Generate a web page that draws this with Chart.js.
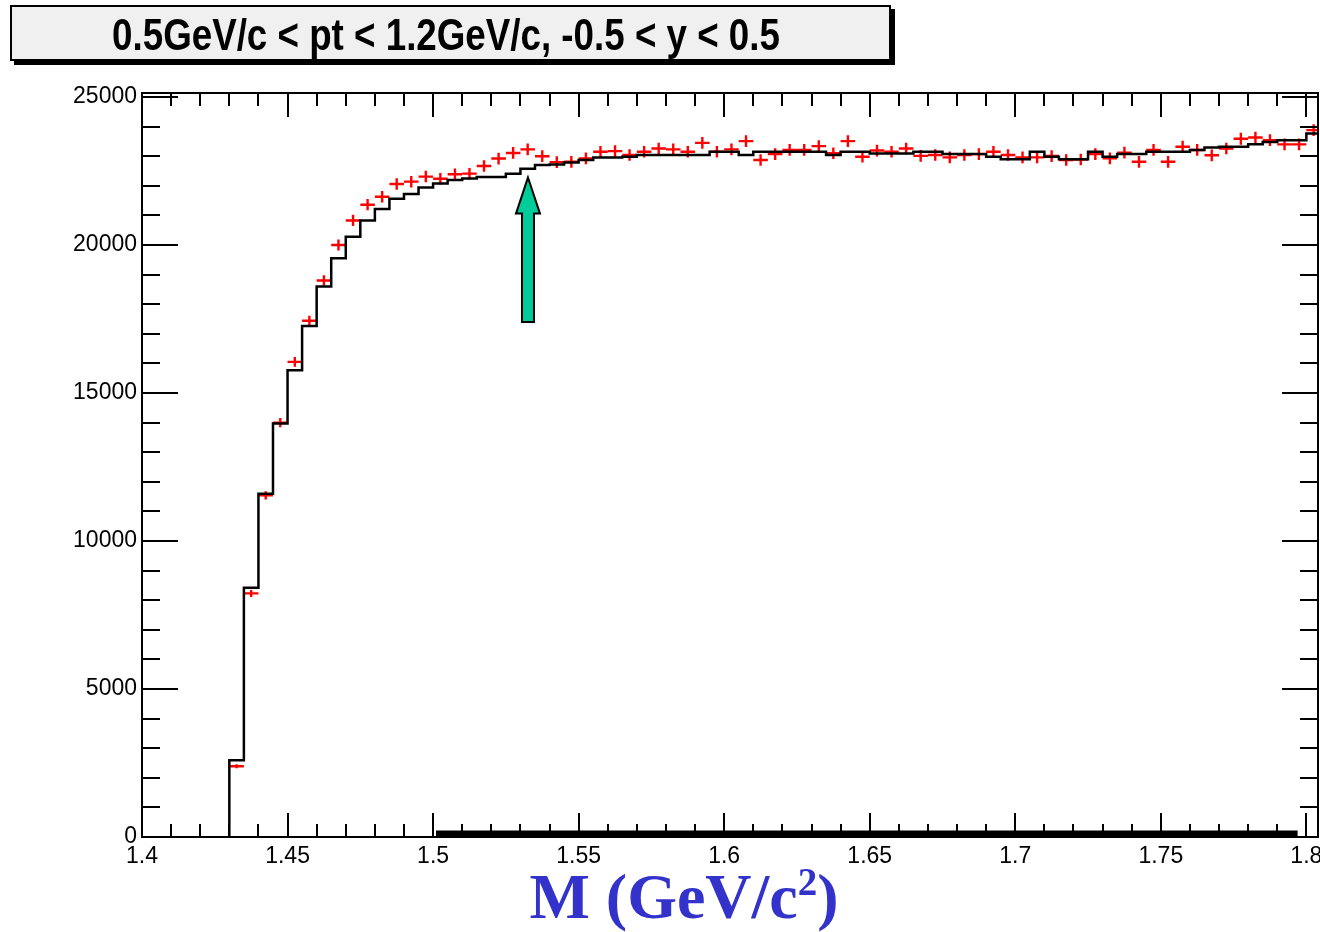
<!DOCTYPE html>
<html lang="en">
<head>
<meta charset="UTF-8">
<title>Invariant mass spectrum</title>
<script src="https://cdn.jsdelivr.net/npm/chart.js@4.4.1/dist/chart.umd.min.js"></script>
<style>
  html, body { margin: 0; padding: 0; background: #fff; }
  .wrap { position: relative; width: 1320px; height: 932px; overflow: hidden; }
  #mass-chart { position: absolute; left: 0; top: 0; }
  .title-box {
    position: absolute; left: 10px; top: 5px; width: 877px; height: 52px;
    background: #f0f0f0; border: 2px solid #000; box-shadow: 4px 4px 0 #000;
  }
  .title-text {
    position: absolute; left: 446px; top: 13px;
    font-family: "Liberation Sans", Arial, sans-serif; font-size: 44px; line-height: 44px;
    font-weight: bold; color: #000; white-space: nowrap; transform-origin: center top;
  }
  .x-title {
    position: absolute; left: 684px; top: 865px;
    font-family: "Liberation Serif", "Times New Roman", serif; font-weight: bold;
    font-size: 64px; line-height: 64px; color: #3333cc; white-space: nowrap;
    transform: translateX(-50%);
  }
  .x-title sup { font-size: 39px; vertical-align: 23px; line-height: 0; }
</style>
</head>
<body>
<div class="wrap">
  <canvas id="mass-chart" width="1320" height="932"></canvas>
  <div class="title-box"></div>
  <div class="title-text" id="title-text">0.5GeV/c &lt; pt &lt; 1.2GeV/c, -0.5 &lt; y &lt; 0.5</div>
  <div class="x-title">M (GeV/c<sup>2</sup>)</div>
</div>
<script>
  // histogram binning (GeV/c^2)
  const binStart = 1.43;
  const binWidth = 0.005;

  // black histogram, one value per bin starting at 1.43
  const histCounts = [
    2590, 8420, 11600, 13970, 15770, 17260, 18600, 19550, 20280, 20830,
    21220, 21560, 21720, 21940, 22080, 22200, 22250, 22300, 22300, 22410,
    22580, 22700, 22720, 22790, 22870, 22960, 22960, 22980, 23040, 23040,
    23040, 23040, 23040, 23150, 23150, 23040, 23150, 23150, 23150, 23150,
    23150, 23040, 23150, 23150, 23095, 23095, 23095, 23150, 23150, 23070,
    23070, 23070, 22980, 22900, 22900, 23150, 22980, 22900, 22900, 23150,
    22980, 23070, 23070, 23150, 23150, 23150, 23210, 23290, 23320, 23320,
    23400, 23480, 23540, 23540, 23770
  ];

  // red points, same bins
  const dataCounts = [
    2390, 8230, 11540, 14000, 16050, 17440, 18800, 20000, 20830, 21360,
    21630, 22060, 22140, 22310, 22240, 22390, 22410, 22670, 22920, 23110,
    23230, 23000, 22800, 22810, 22925, 23150, 23170, 23040, 23150, 23260,
    23230, 23150, 23450, 23150, 23230, 23510, 22870, 23070, 23210, 23210,
    23340, 23100, 23510, 22980, 23190, 23150, 23260, 23010, 23040, 22960,
    23040, 23070, 23150, 23040, 22960, 22960, 23005, 22870, 22890, 23070,
    22925, 23120, 22810, 23210, 22810, 23320, 23210, 23030, 23260, 23590,
    23630, 23540, 23400, 23400, 23880
  ];
  // error bar size relative to sqrt(N)
  const errScale = 1.3;

  // arrow marking the threshold
  const arrowMass = 1.5326;
  const arrowTail = 17400;
  const arrowHeadBase = 21060;
  const arrowTip = 22280;

  // thick bar along the x axis
  const barRange = [1.501, 1.797];

  const xTicks = [1.4, 1.45, 1.5, 1.55, 1.6, 1.65, 1.7, 1.75, 1.8];
  const xTickLabels = ['1.4', '1.45', '1.5', '1.55', '1.6', '1.65', '1.7', '1.75', '1.8'];
  const yTicks = [0, 5000, 10000, 15000, 20000, 25000];
  const yTickLabels = ['0', '5000', '10000', '15000', '20000', '25000'];

  const xMin = 1.4, xMax = 1.804;
  const yMin = 0, yMax = 25135;

  // step line points: rise from zero at first edge, then one point per lower edge
  const histPoints = [{ x: binStart, y: 0 }];
  histCounts.forEach((v, i) => histPoints.push({ x: binStart + i * binWidth, y: v }));
  histPoints.push({ x: binStart + histCounts.length * binWidth, y: histCounts[histCounts.length - 1] });

  const dataPoints = dataCounts.map((v, i) => ({ x: binStart + (i + 0.5) * binWidth, y: v }));
  const barPoints = barRange.map(x => ({ x: x, y: 0 }));

  // fit the title on one narrow line like the original
  const tt = document.getElementById('title-text');
  const sx = 668 / tt.offsetWidth;
  tt.style.transform = 'translateX(-50%) scaleX(' + sx.toFixed(3) + ')';

  const rootStyle = {
    id: 'rootStyle',
    beforeDatasetsDraw(chart) {
      const { ctx, chartArea: a } = chart;
      const xs = chart.scales.x, ys = chart.scales.y;
      ctx.save();
      ctx.beginPath();
      ctx.rect(a.left, a.top, a.right - a.left, a.bottom - a.top);
      ctx.clip();
      ctx.strokeStyle = '#ff0000';
      ctx.lineWidth = 2.4;
      const meta = chart.getDatasetMeta(1);
      meta.data.forEach((pt, i) => {
        const v = dataCounts[i];
        const c = dataPoints[i].x;
        const x0 = xs.getPixelForValue(c - binWidth / 2);
        const x1 = xs.getPixelForValue(c + binWidth / 2);
        const err = errScale * Math.sqrt(v);
        const y0 = ys.getPixelForValue(v - err);
        const y1 = ys.getPixelForValue(v + err);
        ctx.beginPath();
        ctx.moveTo(x0, pt.y); ctx.lineTo(x1, pt.y);
        ctx.moveTo(pt.x, y0); ctx.lineTo(pt.x, y1);
        ctx.stroke();
      });
      ctx.restore();
    },
    afterDatasetsDraw(chart) {
      const { ctx, chartArea: a } = chart;
      const xs = chart.scales.x, ys = chart.scales.y;
      ctx.save();

      // arrow
      const ax = xs.getPixelForValue(arrowMass);
      const yt = ys.getPixelForValue(arrowTip);
      const yh = ys.getPixelForValue(arrowHeadBase);
      const yb = ys.getPixelForValue(arrowTail);
      ctx.beginPath();
      ctx.moveTo(ax, yt);
      ctx.lineTo(ax + 12, yh);
      ctx.lineTo(ax + 6, yh);
      ctx.lineTo(ax + 6, yb);
      ctx.lineTo(ax - 6, yb);
      ctx.lineTo(ax - 6, yh);
      ctx.lineTo(ax - 12, yh);
      ctx.closePath();
      ctx.fillStyle = '#00cc99';
      ctx.fill();
      ctx.lineWidth = 2;
      ctx.strokeStyle = '#000';
      ctx.stroke();

      // frame
      ctx.lineWidth = 2;
      ctx.strokeStyle = '#000';
      ctx.strokeRect(a.left, a.top, a.right - a.left, a.bottom - a.top);

      // tick marks, inside on all four sides
      ctx.beginPath();
      for (let v = 1.4; v <= xMax + 1e-9; v += 0.01) {
        const major = Math.abs(v * 20 - Math.round(v * 20)) < 1e-6;
        const len = major ? 24 : 13;
        const px = Math.round(xs.getPixelForValue(v));
        ctx.moveTo(px, a.bottom); ctx.lineTo(px, a.bottom - len);
        ctx.moveTo(px, a.top); ctx.lineTo(px, a.top + len);
      }
      for (let v = 0; v <= yMax; v += 1000) {
        const len = v % 5000 === 0 ? 36 : 18;
        const py = Math.round(ys.getPixelForValue(v));
        ctx.moveTo(a.left, py); ctx.lineTo(a.left + len, py);
        ctx.moveTo(a.right, py); ctx.lineTo(a.right - len, py);
      }
      ctx.stroke();
      ctx.restore();
    }
  };

  const tickFont = { family: 'Liberation Sans', size: 23 };

  new Chart(document.getElementById('mass-chart'), {
    type: 'line',
    data: {
      datasets: [
        {
          label: 'histogram',
          data: histPoints,
          stepped: true,
          borderColor: '#000',
          borderWidth: 2.5,
          pointRadius: 0,
          fill: false
        },
        {
          label: 'data',
          data: dataPoints,
          showLine: false,
          pointRadius: 0
        },
        {
          label: 'range',
          data: barPoints,
          borderColor: '#000',
          borderWidth: 13,
          pointRadius: 0,
          clip: 0
        }
      ]
    },
    options: {
      responsive: false,
      animation: false,
      devicePixelRatio: 1,
      layout: { padding: { top: 93, right: 2, left: 0, bottom: 0 } },
      plugins: { legend: { display: false }, tooltip: { enabled: false } },
      scales: {
        x: {
          type: 'linear',
          min: xMin,
          max: xMax,
          grid: { display: false, drawTicks: false },
          border: { display: false },
          ticks: {
            font: tickFont, color: '#000', padding: 6,
            autoSkip: false, maxRotation: 0,
            callback: (v, i) => xTickLabels[i]
          },
          afterBuildTicks: s => { s.ticks = xTicks.map(v => ({ value: v })); },
          afterFit: s => {
            s.height = 95;
            s.paddingLeft = 0; s.paddingRight = 0;
          }
        },
        y: {
          min: yMin,
          max: yMax,
          grid: { display: false, drawTicks: false },
          border: { display: false },
          ticks: {
            font: tickFont, color: '#000', padding: 5,
            autoSkip: false,
            callback: (v, i) => yTickLabels[i]
          },
          afterBuildTicks: s => { s.ticks = yTicks.map(v => ({ value: v })); },
          afterFit: s => {
            s.width = 142;
            s.paddingTop = 0; s.paddingBottom = 0;
          }
        }
      }
    },
    plugins: [rootStyle]
  });
</script>
</body>
</html>
